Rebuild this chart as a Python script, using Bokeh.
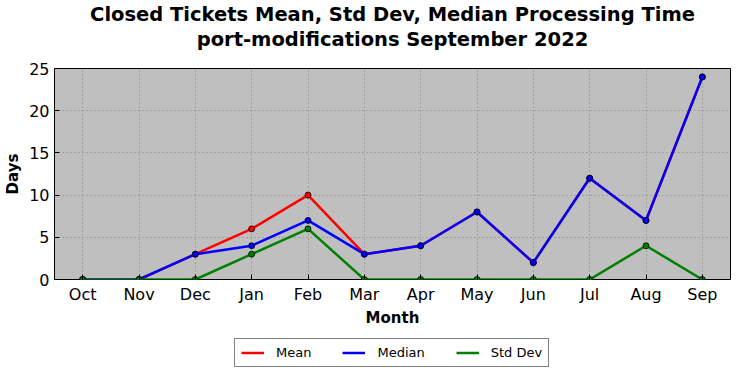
from bokeh.plotting import figure
from bokeh.models import FactorRange, Range1d, Legend, LegendItem, FixedTicker, Title
from bokeh.layouts import column
from bokeh.embed import file_html
from bokeh.resources import INLINE

months = ["Oct", "Nov", "Dec", "Jan", "Feb", "Mar", "Apr", "May", "Jun", "Jul", "Aug", "Sep"]
mean = [0, 0, 3, 6, 10, 3, 4, 8, 2, 12, 7, 24]
median = [0, 0, 3, 4, 7, 3, 4, 8, 2, 12, 7, 24]
std_dev = [0, 0, 0, 3, 6, 0, 0, 0, 0, 0, 4, 0]
y_ticks = [0, 5, 10, 15, 20, 25]
series = [(mean, "red", "Mean"), (median, "blue", "Median"), (std_dev, "green", "Std Dev")]

FONT = "DejaVu Sans"

p = figure(frame_width=676, frame_height=211, output_backend="svg", toolbar_location=None, title=None,
           x_range=FactorRange(*months, range_padding=0), y_range=Range1d(0, 25),
           min_border_left=54, min_border_right=2, min_border_top=61, min_border_bottom=49)

p.add_layout(Title(text=" ", text_font=FONT, text_font_size="13.5px", standoff=0), "above")
for txt in ("port-modifications September 2022", "Closed Tickets Mean, Std Dev, Median Processing Time"):
    t = Title(text=txt, align="center", text_font=FONT, text_font_size="19.5px",
              text_font_style="bold", text_color="black", standoff=0, offset=0)
    p.add_layout(t, "above")

p.background_fill_color = "#bfbfbf"
p.border_fill_color = "white"
p.outline_line_color = "black"
p.outline_line_width = 1

for g in (p.xgrid, p.ygrid):
    g.grid_line_color = "#808080"
    g.grid_line_dash = "1 3"
    g.grid_line_width = 1
p.ygrid.ticker = FixedTicker(ticks=y_ticks)

p.yaxis.ticker = FixedTicker(ticks=y_ticks)
for ax in (p.xaxis[0], p.yaxis[0]):
    ax.major_label_text_font = FONT
    ax.major_label_text_font_size = "16px"
    ax.major_label_text_color = "black"
    ax.axis_label_text_font = FONT
    ax.axis_label_text_font_size = "15px"
    ax.axis_label_text_font_style = "bold"
    ax.axis_label_text_color = "black"
    ax.major_tick_in = 5
    ax.major_tick_out = 0
    ax.minor_tick_in = 0
    ax.minor_tick_out = 0
    ax.axis_line_color = None
    ax.major_tick_line_color = "black"
p.xaxis.axis_label = "Month"
p.yaxis.axis_label = "Days"
p.xaxis.major_label_standoff = 5
p.yaxis.major_label_standoff = 5
p.xaxis.axis_label_standoff = 2
p.yaxis.axis_label_standoff = 4

for vals, color, name in series:
    p.line(months, vals, line_color=color, line_width=2.5)
    p.scatter(months, vals, size=6, fill_color=color, line_color="black", line_width=0.8)

# legend-only strip below the chart (its data lies outside the visible y range)
p2 = figure(width=732, height=40, output_backend="svg", toolbar_location=None, title=None,
            x_range=FactorRange(*months, range_padding=0), y_range=Range1d(100, 101),
            min_border_left=0, min_border_right=0, min_border_top=0, min_border_bottom=0)
p2.axis.visible = False
p2.grid.visible = False
p2.outline_line_color = None
items = []
for vals, color, name in series:
    r = p2.line(months, vals, line_color=color, line_width=2.5)
    items.append(LegendItem(label=name, renderers=[r]))
legend = Legend(items=items, orientation="horizontal", location=(180, 2),
                label_text_font=FONT, label_text_font_size="13px", label_text_color="black",
                border_line_color="black", border_line_width=1,
                background_fill_color="white", background_fill_alpha=1,
                glyph_width=23, spacing=31, padding=6, margin=0,
                label_standoff=12, label_height=13, glyph_height=13)
p2.add_layout(legend, "center")

layout = column(p, p2, spacing=0)
open("out.html", "w").write(file_html(layout, INLINE))
